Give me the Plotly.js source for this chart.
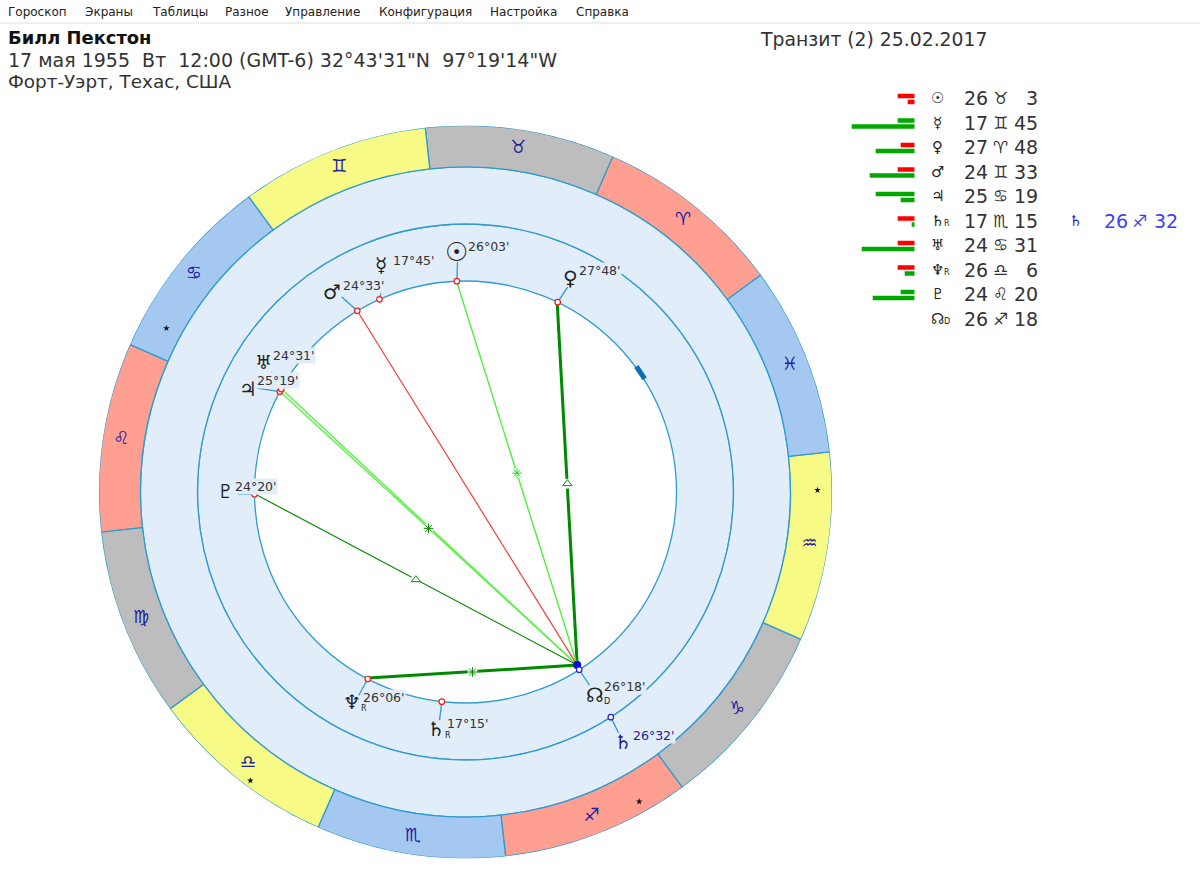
<!DOCTYPE html>
<html><head><meta charset="utf-8">
<script src="https://cdn.plot.ly/plotly-3.0.1.min.js"></script>
<style>html,body{margin:0;padding:0;background:#fff}#c{width:1200px;height:877px}</style></head>
<body><div id="c"></div>
<script>
// ---------- data ----------
const menuItems = ["Гороскоп","Экраны","Таблицы","Разное","Управление","Конфигурация","Настройка","Справка"];
const personName = "Билл Пекстон";
const birthLine = "17 мая 1955\u00a0\u00a0Вт\u00a0\u00a012:00 (GMT-6) 32°43'31\"N\u00a0\u00a097°19'14\"W";
const placeLine = "Форт-Уэрт, Техас, США";
const transitTitle = "Транзит (2) 25.02.2017";

const signGlyphs = ["♈","♉","♊","♋","♌","♍","♎","♏","♐","♑","♒","♓"];
const signColors = ["#ff9f92","#bdbdbd","#f8fa86","#a5c8f0","#ff9f92","#bdbdbd","#f8fa86","#a5c8f0","#ff9f92","#bdbdbd","#f8fa86","#a5c8f0"];

const planetKeys   = ["sun","mercury","venus","mars","jupiter","saturn","uranus","neptune","pluto","node"];
const planetGlyphs = ["☉","☿","♀","♂","♃","♄","♅","♆","♇","☊"];
const planetSubs   = ["","","","","","R","","R","","D"];
const planetSign   = [1,2,0,2,3,7,3,6,4,8];
const planetDeg    = [26,17,27,24,25,17,24,26,24,26];
const planetMin    = [3,45,48,33,19,15,31,6,20,18];
const barTop       = [17,17,14,17,39,17,17,17,14,0];
const barBottom    = [7,63,39,45,14,3,53,10,42,0];
const barTopKind   = ["r","g","r","r","g","r","r","r","g","r"];
const barBottomKind= ["r","g","g","g","g","g","g","g","g","g"];

const transitGlyph = "♄", transitSign = 8, transitDeg = 26, transitMin = 32;

const aspectPlanets = ["venus","sun","mars","uranus","jupiter","pluto","neptune"];
const aspectKinds   = ["trine","sextile","","","sextile","trine","sextile"];
const aspectColors  = ["#008a00","#4df03a","#f53b3b","#5cf048","#5cf048","#0a8a0a","#008a00"];
const aspectWidths  = [3,1.4,1.2,1.4,1.4,1.2,3];

const starLongitudes = [115,197,263,324];
const starRadii      = [341,360,355,352];
const arcMark = [356,360];

// ---------- layout constants ----------
const CX=465.5, CY=492, R0=366.5, R1=325, R2=268, R3=211;
const ROT=36.3;
const LINE="#2f9bcf", PALE="#e1edf9", TXT="#333", BLUE="#2a2ad0", NAVY="#2020a0";
const FONT="DejaVu Sans, sans-serif";
const leaderEnds = {sun:[230,55.7],mercury:[218,76.4],venus:[229,27.2],mars:[231,86.1],jupiter:[233,117.2],
  saturn:[229.5,227.2],uranus:[228,112],neptune:[229.5,206],pluto:[228,144.3],node:[229.5,266.4]};
const labelPos = {sun:[467,246],mercury:[392,260],venus:[578,270],mars:[342,285],uranus:[272,356],jupiter:[256,381],
  pluto:[234,486],neptune:[362,697],saturn:[446,723],node:[603,686]};
const glyphPos = {sun:[456,252,26],mercury:[381,265,20],venus:[570,278,20],mars:[332,292,20],uranus:[263,362,19],jupiter:[248,389,20],
  pluto:[225,491,19],neptune:[352,702,20],saturn:[436,729,20],node:[595,695,20]};

const lon = i => planetSign[i]*30 + planetDeg[i] + planetMin[i]/60;
const lons = planetKeys.map((_,i)=>lon(i));
const tLon = transitSign*30 + transitDeg + transitMin/60;
const X = x=>x/1200, Y = y=>1-y/877;

const annotations=[];
function note(text,x,y,size,color,o){o=o||{};
  annotations.push({text:text,xref:"paper",yref:"paper",x:X(x),y:Y(y),xanchor:o.anchor||"left",yanchor:"middle",
    showarrow:false,borderpad:0,bgcolor:o.bg||"rgba(0,0,0,0)",
    font:{family:o.family||FONT,size:size,color:color}});
}

// ---------- traces ----------
const traces=[];
[[R3,R2-R3],[R2,R1-R2]].forEach(b=>traces.push({type:"barpolar",theta:[180],width:[360],base:[b[0]],r:[b[1]],
  marker:{color:PALE,line:{color:LINE,width:1.3}},hoverinfo:"skip"}));
traces.push({type:"barpolar",theta:signGlyphs.map((_,i)=>i*30+15),width:signGlyphs.map(()=>30),base:signGlyphs.map(()=>R1),r:signGlyphs.map(()=>R0-R1),
  marker:{color:signColors,line:{color:LINE,width:1.3}},hoverinfo:"skip"});
traces.push({type:"scatterpolar",mode:"lines",r:[R3+1,R3+1],theta:arcMark,line:{color:"#0a6fb5",width:5},hoverinfo:"skip"});
planetKeys.forEach((k,i)=>traces.push({type:"scatterpolar",mode:"lines",r:[R3,leaderEnds[k][0]],theta:[lons[i],leaderEnds[k][1]],
  line:{color:LINE,width:1.3},hoverinfo:"skip"}));
traces.push({type:"scatterpolar",mode:"lines",r:[R2,285.5],theta:[tLon,tLon-0.4],line:{color:LINE,width:1.3},hoverinfo:"skip"});
// aspects, with a glyph at the middle of each chord
const midR=[],midT=[],midK=[],midC=[];
const rad=Math.PI/180;
aspectPlanets.forEach((p,a)=>{
  const l=lons[planetKeys.indexOf(p)];
  traces.push({type:"scatterpolar",mode:"lines",r:[R3-1,R3-5],theta:[l,tLon],line:{color:aspectColors[a],width:aspectWidths[a]},hoverinfo:"skip"});
  if(aspectKinds[a]){
    const mx=(R3*Math.cos(l*rad)+(R3-5)*Math.cos(tLon*rad))/2, my=(R3*Math.sin(l*rad)+(R3-5)*Math.sin(tLon*rad))/2;
    midR.push(Math.hypot(mx,my)); midT.push(Math.atan2(my,mx)/rad);
    midK.push(aspectKinds[a]==="trine"?"triangle-up-open":"asterisk-open");
    midC.push(a===1?"#2fd02f":"#0a8a0a");
  }
});
traces.push({type:"scatterpolar",mode:"markers",r:midR,theta:midT,marker:{symbol:"circle",size:10,color:"#fff",line:{width:0}},hoverinfo:"skip"});
traces.push({type:"scatterpolar",mode:"markers",r:midR,theta:midT,marker:{symbol:midK,size:8,color:midC,line:{color:midC,width:1}},hoverinfo:"skip"});
traces.push({type:"scatterpolar",mode:"markers",r:lons.slice(0,9).map(()=>R3),theta:lons.slice(0,9),marker:{size:5.5,color:"#fff",line:{color:"#f02020",width:1.2}},hoverinfo:"skip"});
traces.push({type:"scatterpolar",mode:"markers",r:[R3-5],theta:[tLon],marker:{size:8,color:"#0808e0"},hoverinfo:"skip"});
traces.push({type:"scatterpolar",mode:"markers",r:[R3,R2],theta:[lons[9],tLon],marker:{size:5.5,color:"#fff",line:{color:"#2020e0",width:1.2}},hoverinfo:"skip"});
traces.push({type:"scatterpolar",mode:"text",r:signGlyphs.map(()=>348),theta:signGlyphs.map((_,i)=>i*30+15),text:signGlyphs,
  textposition:"middle center",textfont:{family:"DejaVu Sans",size:18,color:NAVY},hoverinfo:"skip"});
traces.push({type:"scatterpolar",mode:"markers",r:starRadii,theta:starLongitudes,marker:{symbol:"star",size:5,color:"#111"},hoverinfo:"skip"});
const kc=k=>k==="r"?"#ff0000":"#00a800";
traces.push({type:"bar",orientation:"h",y:planetKeys,x:barTop,marker:{color:barTopKind.map(kc),line:{width:0}},xaxis:"x",yaxis:"y",hoverinfo:"skip"});
traces.push({type:"bar",orientation:"h",y:planetKeys,x:barBottom,marker:{color:barBottomKind.map(kc),line:{width:0}},xaxis:"x",yaxis:"y",hoverinfo:"skip"});

// ---------- text ----------
const menuX=[7,84,151,224,284,378,489,575];
menuItems.forEach((m,i)=>note(m,menuX[i],12,12,"#222"));
note("<b>"+personName+"</b>",7,38,17.9,"#111");
note(birthLine,7,60,19,TXT);
note(placeLine,7,82,18.4,TXT);
note(transitTitle,759,39,18.8,TXT);

const pad=n=>(n<10?"0":"")+n;
planetKeys.forEach((k,i)=>{
  const lp=labelPos[k], gp=glyphPos[k];
  note(planetDeg[i]+"°"+pad(planetMin[i])+"'",lp[0],lp[1],12.5,TXT,{bg:PALE});
  note(planetGlyphs[i],gp[0],gp[1],gp[2],"#222",{anchor:"center"});
  if(planetSubs[i]) note(planetSubs[i],gp[0]+12,gp[1]+6,8,"#222",{anchor:"center"});
  const y=98+24.55*i;
  note(planetGlyphs[i],937,y,15,"#222",{anchor:"center"});
  if(planetSubs[i]) note(planetSubs[i],947,y+3,8,"#222",{anchor:"center"});
  note(String(planetDeg[i]),963.5,y,19,TXT);
  note(signGlyphs[planetSign[i]],1000,y,17,TXT,{anchor:"center"});
  note(String(planetMin[i]),1039,y,19,TXT,{anchor:"right"});
});
note(transitDeg+"°"+pad(transitMin)+"'",632,735,12.5,NAVY,{bg:PALE});
note(transitGlyph,623,742,20,NAVY,{anchor:"center"});
const ty=98+24.55*5;
note(transitGlyph,1075,ty,15,BLUE,{anchor:"center"});
note(String(transitDeg),1102.5,ty,19,"#4040f0");
note(signGlyphs[transitSign],1139,ty,17,"#4040f0",{anchor:"center"});
note(String(transitMin),1179,ty,19,"#4040f0",{anchor:"right"});

const layout={width:1200,height:877,margin:{l:0,r:0,t:0,b:0},showlegend:false,paper_bgcolor:"#fff",plot_bgcolor:"rgba(0,0,0,0)",
  hovermode:false,dragmode:false,
  polar:{domain:{x:[X(CX-R0),X(CX+R0)],y:[Y(CY+R0),Y(CY-R0)]},bgcolor:"rgba(0,0,0,0)",
    radialaxis:{visible:false,range:[0,R0]},
    angularaxis:{visible:false,rotation:ROT,direction:"counterclockwise",thetaunit:"degrees"}},
  xaxis:{domain:[X(840),X(914.7)],range:[74.7,0],visible:false,fixedrange:true},
  yaxis:{domain:[Y(331.75),Y(86.75)],type:"category",categoryorder:"array",categoryarray:planetKeys,autorange:"reversed",visible:false,fixedrange:true},
  barmode:"group",bargap:0.5,bargroupgap:0.25,
  shapes:[{type:"line",xref:"paper",yref:"paper",x0:0,x1:1,y0:Y(23),y1:Y(23),line:{color:"#efefef",width:2}}],
  annotations:annotations};
Plotly.newPlot("c",traces,layout,{displayModeBar:false,staticPlot:true});
</script></body></html>
